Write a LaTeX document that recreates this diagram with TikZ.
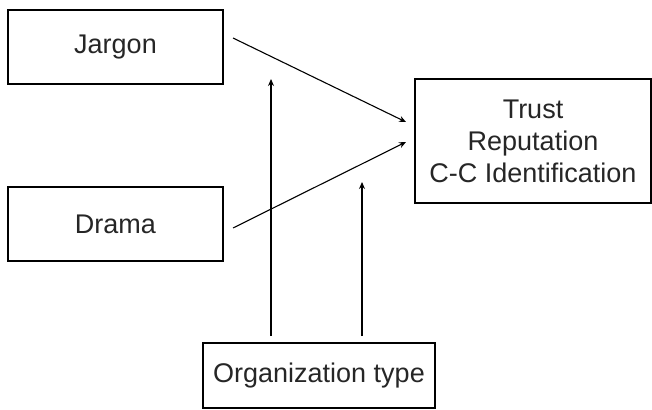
\documentclass[tikz,border=0pt]{standalone}
\usepackage{fontspec}
\setmainfont{Liberation Sans}
\usetikzlibrary{arrows.meta}
\begin{document}
\begin{tikzpicture}[x=1pt,y=-1pt,
  box/.style={draw=black,line width=1.1pt,rectangle,inner sep=0pt,
    font=\fontsize{27}{32}\selectfont,text=black!85,align=center},
  conn/.style={line width=1.1pt,-{Stealth[length=7pt,width=6pt]}}]
\useasboundingbox (0,0) rectangle (652,409);
\node[box,minimum width=215pt,minimum height=74pt] (jargon) at (115.5,47) {Jargon};
\node[box,minimum width=215pt,minimum height=74pt] (drama) at (115.5,224) {Drama};
\node[box,minimum width=236pt,minimum height=124pt] (trust) at (533,141) {Trust\\Reputation\\C-C Identification};
\node[box,minimum width=232pt,minimum height=65pt] (org) at (319,375.5) {Organization type};
\coordinate (j1) at (233,38);
\coordinate (j2) at (406,122);
\coordinate (d1) at (233,228);
\coordinate (d2) at (406,142);
\coordinate (o1) at (271,336);
\coordinate (o1e) at (271,79);
\coordinate (o2) at (362,336);
\coordinate (o2e) at (362,182);
\draw[conn] (j1) -- (j2);
\draw[conn] (d1) -- (d2);
\draw[conn] (o1) -- (o1e);
\draw[conn] (o2) -- (o2e);
\end{tikzpicture}
\end{document}
